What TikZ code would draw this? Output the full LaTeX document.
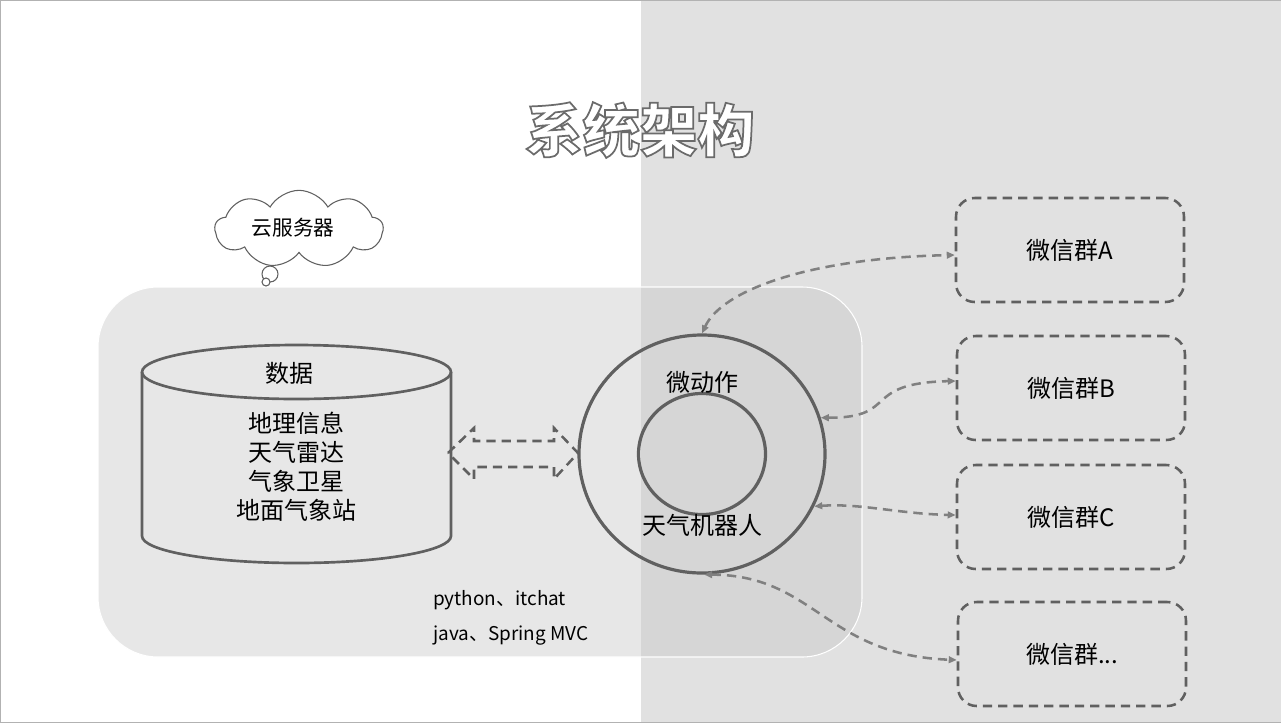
\documentclass[tikz,border=0pt]{standalone}
\usepackage{fontspec}
\setmainfont{Noto Sans CJK SC}
\usepackage{tikz}
\usetikzlibrary{shapes.geometric,shapes.symbols,arrows.meta,calc}
\usepackage{xcolor}
\definecolor{rightbg}{RGB}{225,225,225}
\definecolor{panelcolor}{RGB}{200,200,200}
\definecolor{linecolor}{RGB}{96,96,96}
\definecolor{linkcolor}{RGB}{128,128,128}
\newcommand\hollowtext[1]{\special{pdf:literal direct 2 Tr 1.3 w 0.42 0.42 0.42 RG}#1\special{pdf:literal direct 0 Tr}}

\begin{document}
\begin{tikzpicture}[
    x=0.75pt, y=-0.75pt,
    txt/.style={font=\fontsize{18}{21.75}\selectfont, text=black, inner sep=0pt},
    solidline/.style={draw=linecolor, line width=2pt},
    group/.style={draw=linecolor, line width=1.9pt, dash pattern=on 7pt off 4.5pt, rounded corners=14pt,
        minimum width=171pt, minimum height=78pt, font=\fontsize{18}{21}\selectfont},
    link/.style={draw=linkcolor, line width=1.9pt, dash pattern=on 7pt off 4.5pt,
        {Triangle[length=6pt,width=5pt]}-{Triangle[length=6pt,width=5pt]}, fill=none}
]
    \useasboundingbox (0,0) rectangle (1281,722);
    \fill[rightbg] (641,0) rectangle (1281,722);
    \draw[gray!60, line width=0.6pt] (0,0) rectangle (1281,722);

    % title
    \node[font=\fontsize{43}{50}\selectfont\bfseries, text=white] (title) at (640,130) {\hollowtext{系统架构}};

    % server panel
    \fill[panelcolor, fill opacity=0.43, rounded corners=45pt] (98,287) rectangle (862,657);
    \draw[white, line width=0.8pt, rounded corners=45pt] (98,287) rectangle (862,657);

    % cloud
    \node[cloud, cloud puffs=9, cloud puff arc=120, aspect=2.2, draw=linecolor, line width=0.8pt, fill=white,
        minimum width=126pt, minimum height=58pt] (cloud) at (299,229) {};
    \node[font=\fontsize{15.5}{18}\selectfont] (cloudtxt) at (293,228) {云服务器};
    \draw[linecolor, line width=0.8pt, fill=white] (270,274) circle[radius=8];
    \draw[linecolor, line width=0.8pt, fill=white] (266,282) circle[radius=4];

    % database
    \draw[solidline] (142,372) -- (142,536) arc[start angle=180, end angle=0, x radius=154.5, y radius=27] -- (451,372);
    \draw[solidline] (296.5,372) ellipse[x radius=154.5, y radius=27];
    \node[txt] (db) at (289,373) {数据};
    \node[txt, align=center] (dbitems) at (296,467) {地理信息\\天气雷达\\气象卫星\\地面气象站};

    % double arrow
    \draw[draw=linecolor, line width=1.9pt, dash pattern=on 7pt off 4.5pt]
        (448,453) -- (474,428) -- (474,441) -- (554,441) -- (554,428) -- (578,453)
        -- (554,479) -- (554,467) -- (474,467) -- (474,479) -- cycle;

    % robot
    \node[ellipse, draw=linecolor, line width=2.4pt, minimum width=184.5pt, minimum height=178.5pt, inner sep=0pt] (ring) at (702,454) {};
    \node[ellipse, draw=linecolor, line width=2.4pt, minimum width=95.25pt, minimum height=90.75pt, inner sep=0pt] (core) at (702,454) {};
    \node[txt] (action) at (702,382) {微动作};
    \node[txt] (robot) at (702,525) {天气机器人};

    \node[font=\fontsize{14.2}{16}\selectfont, anchor=west, inner sep=0pt] (py) at (433,600) {python、itchat};
    \node[font=\fontsize{14.2}{16}\selectfont, anchor=west, inner sep=0pt] (java) at (433,636) {java、Spring MVC};

    % wechat groups
    \node[group] (grpA) at (1070,250) {微信群A};
    \node[group] (grpB) at (1071,388) {微信群B};
    \node[group] (grpC) at (1071,517) {微信群C};
    \node[group] (grpD) at (1072,654) {微信群...};

    \draw[link] (ring.north) .. controls (722,290) and (810,258) .. ($(grpA.west)+(0,5)$);
    \draw[link] (ring.17) .. controls (900,418) and (860,383) .. ($(grpB.west)+(0,-7)$);
    \draw[link] (ring.-25) .. controls (860,503) and (900,514) .. ($(grpC.west)+(0,-2)$);
    \draw[link] (ring.-89) .. controls (815,575) and (825,655) .. ($(grpD.west)+(0,6)$);
\end{tikzpicture}
\end{document}
